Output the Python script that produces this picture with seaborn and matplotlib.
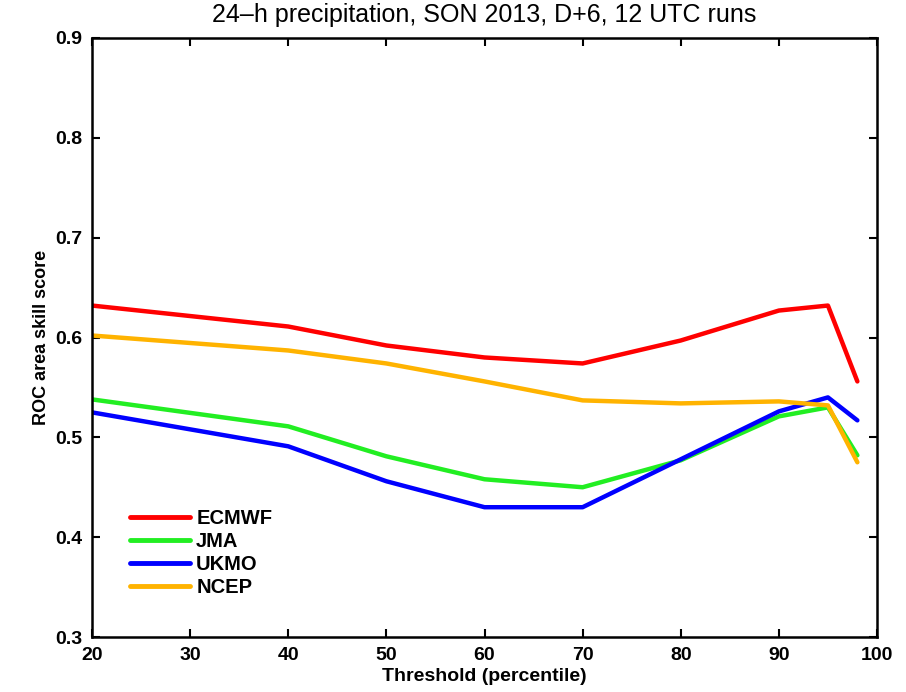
import matplotlib
matplotlib.use("Agg")
import matplotlib.pyplot as plt
import seaborn as sns
import pandas as pd

thresholds = [20, 40, 50, 60, 70, 80, 90, 95, 98]
ecmwf = [0.632, 0.611, 0.592, 0.580, 0.574, 0.597, 0.627, 0.632, 0.556]
jma = [0.538, 0.511, 0.481, 0.458, 0.450, 0.477, 0.521, 0.530, 0.482]
ukmo = [0.525, 0.491, 0.456, 0.430, 0.430, 0.478, 0.526, 0.540, 0.517]
ncep = [0.602, 0.587, 0.574, 0.556, 0.537, 0.534, 0.536, 0.532, 0.475]
models = ["ECMWF", "JMA", "UKMO", "NCEP"]
colors = ["#ff0000", "#22ee22", "#0000ff", "#ffb300"]

rows = []
for name, vals in zip(models, [ecmwf, jma, ukmo, ncep]):
    for t, v in zip(thresholds, vals):
        rows.append({"Threshold": t, "Score": v, "Model": name})
df = pd.DataFrame(rows)

sns.set_style("ticks")
plt.rcParams['font.family'] = ['Liberation Sans', 'DejaVu Sans']
plt.rcParams['text.color'] = 'black'
plt.rcParams['axes.labelcolor'] = 'black'
plt.rcParams['xtick.color'] = 'black'
plt.rcParams['ytick.color'] = 'black'

fig = plt.figure(figsize=(9.06, 6.92), dpi=100)
ax = fig.add_axes([92/906, 1 - 637/692, (877-92)/906, (637-38)/692])
sns.lineplot(data=df, x="Threshold", y="Score", hue="Model", hue_order=models,
             palette=colors, linewidth=3.2, ax=ax, sort=False)

ax.set_xlim(20, 100)
ax.set_ylim(0.3, 0.9)
ax.set_xticks(range(20, 101, 10))
ax.set_yticks([0.3, 0.4, 0.5, 0.6, 0.7, 0.8, 0.9])
ax.set_yticklabels(["0.3", "0.4", "0.5", "0.6", "0.7", "0.8", "0.9"])
ax.tick_params(direction="in", top=True, right=True, length=6, width=1.5,
               labelsize=14, pad=7, colors="black")
for lab in ax.get_xticklabels() + ax.get_yticklabels():
    lab.set_fontweight("bold")
for s in ax.spines.values():
    s.set_linewidth(1.8)
    s.set_color("black")
ax.set_xlabel("Threshold (percentile)", fontsize=14, fontweight="bold", labelpad=3)
ax.set_ylabel("ROC area skill score", fontsize=13, fontweight="bold", labelpad=4)
fig.text(0.5 * (92 + 877) / 906, 1 - 15/692,
         "24\u2013h precipitation, SON 2013, D+6, 12 UTC runs",
         fontsize=18, ha="center", va="center")

leg = ax.legend(loc="lower left", bbox_to_anchor=(0.025, 0.037), frameon=False,
                fontsize=14.5, handlelength=3.0, labelspacing=0.2, handletextpad=0.3)
for t in leg.get_texts():
    t.set_fontweight("bold")
for l in leg.get_lines():
    l.set_linewidth(3.5)

fig.savefig("out.png", dpi=100)
